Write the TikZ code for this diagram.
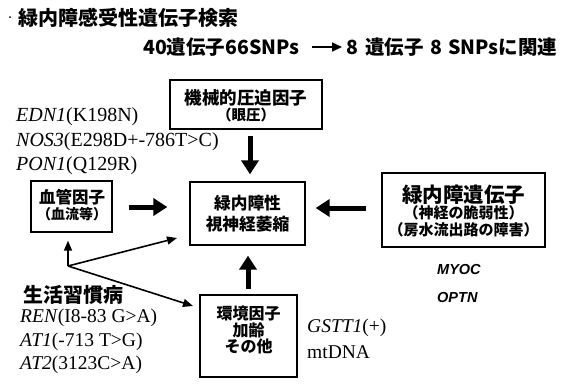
\documentclass[tikz,border=0pt]{standalone}
\usepackage{fontspec}
\setmainfont{Liberation Serif}
\newfontfamily\jp{Noto Sans CJK JP}
\newfontfamily\lsans{Liberation Sans}
\usetikzlibrary{arrows.meta}
\begin{document}
\begin{tikzpicture}[x=1pt,y=-1pt,
  box/.style={draw, line width=1.3pt, inner sep=0pt},
  jtext/.style={font=\jp\bfseries, align=center, inner sep=0pt},
  ltext/.style={anchor=west, inner sep=0pt, font=\fontsize{19.5}{22}\selectfont},
  gtext/.style={anchor=west, inner sep=0pt, font=\lsans\bfseries\itshape\fontsize{14.5}{16}\selectfont},
  bigarrow/.style={line width=5pt, -{Triangle[width=17pt,length=14pt]}},
  thinarrow/.style={line width=1.6pt, -{Triangle[width=8pt,length=10pt]}},
]
\useasboundingbox (0,0) rectangle (577,383);
\fill (10,17) circle (1pt);
% title lines
\node[jtext, anchor=west, font=\jp\bfseries\fontsize{20}{24}\selectfont] (title) at (18,18) {緑内障感受性遺伝子検索};
\node[jtext, anchor=west, font=\jp\bfseries\fontsize{19.5}{24}\selectfont] (l2a) at (143,47) {40遺伝子66SNPs};
\node[jtext, anchor=west, font=\jp\bfseries\fontsize{19.5}{24}\selectfont] (l2b) at (346,47) {8\hspace{7pt}遺伝子\hspace{7pt}8\hspace{6pt}SNPsに関連};
\draw[line width=1.5pt, -{Triangle[width=9pt,length=10pt]}, shorten <=12pt, shorten >=4pt] (l2a.east) -- (l2b.west);
% boxes
\node[box, minimum width=152pt, minimum height=49pt] (mech) at (246,104.5) {};
\node[jtext] (mecht) at (246,106) {{\fontsize{17.5}{18}\selectfont 機械的圧迫因子}\\[1pt]{\fontsize{14.5}{17}\selectfont （眼圧）}};
\node[box, minimum width=115pt, minimum height=63pt] (cen) at (247.5,213.5) {};
\node[jtext] (cent) at (247.5,213.5) {{\fontsize{16.7}{20}\selectfont 緑内障性}\\[4pt]{\fontsize{16.7}{20}\selectfont 視神経萎縮}};
\node[box, minimum width=81pt, minimum height=51pt] (vasc) at (71.5,206.5) {};
\node[jtext] (vasct) at (72,205) {{\fontsize{16.5}{18}\selectfont 血管因子}\\[1pt]{\fontsize{14}{17}\selectfont （血流等）}};
\node[box, minimum width=163pt, minimum height=74pt] (gene) at (463.5,210) {};
\node[jtext] (genet) at (463.5,211) {{\fontsize{20.5}{22}\selectfont 緑内障遺伝子}\\[0pt]{\fontsize{15}{20}\selectfont （神経の脆弱性）}\\[1pt]{\fontsize{15}{20}\selectfont （房水流出路の障害）}};
\node[box, minimum width=97pt, minimum height=82pt] (env) at (248.5,336) {};
\node[jtext] (envt) at (248.5,330) {{\fontsize{16}{17}\selectfont 環境因子}\\{\fontsize{16}{17}\selectfont 加齢}\\{\fontsize{16}{17}\selectfont その他}};
% gene labels
\node[ltext, font=\fontsize{20}{22}\selectfont] (edn) at (16,117) {\textit{EDN1}(K198N)};
\node[ltext, font=\fontsize{20}{22}\selectfont] (nos) at (16,142) {\textit{NOS3}(E298D+-786T>C)};
\node[ltext, font=\fontsize{20}{22}\selectfont] (pon) at (16,166) {\textit{PON1}(Q129R)};
\node[jtext, anchor=west, font=\jp\bfseries\fontsize{20}{24}\selectfont] (life) at (23,295) {生活習慣病};
\node[ltext] (ren) at (20,318) {\textit{REN}(I8-83 G>A)};
\node[ltext] (at1) at (20,342) {\textit{AT1}(-713 T>G)};
\node[ltext] (at2) at (20,365) {\textit{AT2}(3123C>A)};
\node[ltext] (gst) at (307,328) {\textit{GSTT1}(+)};
\node[ltext] (mt) at (307,352) {mtDNA};
\node[gtext] (myoc) at (437,270) {MYOC};
\node[gtext] (optn) at (437,298) {OPTN};
% thick arrows
\draw[bigarrow, shorten <=6pt, shorten >=7pt] (mech.south -| 250,0) -- (cen.north -| 250,0);
\draw[bigarrow, shorten <=16pt, shorten >=22pt] (vasc.east |- 0,207) -- (cen.west |- 0,207);
\draw[bigarrow, shorten <=15pt, shorten >=10pt] (gene.west |- 0,208) -- (cen.east |- 0,208);
\draw[bigarrow, shorten <=5pt, shorten >=10pt] (env.north -| 248,0) -- (cen.south -| 248,0);
% thin arrows from junction
\coordinate (J) at (68,266);
\coordinate (c1) at (177,238);
\coordinate (c2) at (193,306);
\draw[thinarrow, shorten >=8pt] (J) -- (J |- vasc.south);
\draw[thinarrow] (J) -- (c1);
\draw[thinarrow] (J) -- (c2);
\end{tikzpicture}
\end{document}
